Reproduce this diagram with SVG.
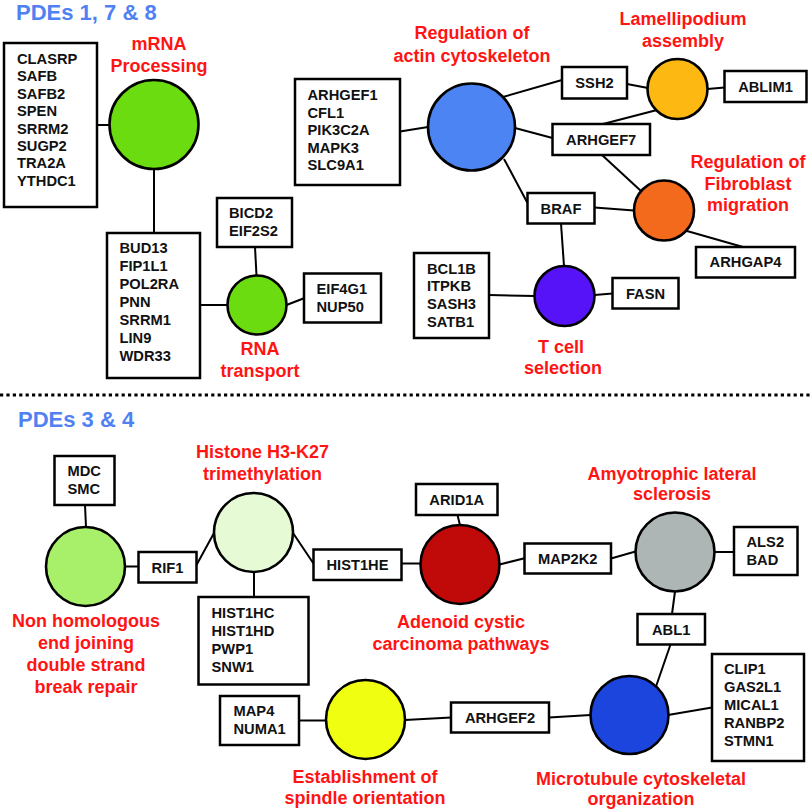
<svg xmlns="http://www.w3.org/2000/svg" width="810" height="812" viewBox="0 0 810 812">
<style>
text{font-family:"Liberation Sans",Arial,sans-serif;font-weight:bold}
.ttl{font-size:22px;fill:#4f81f3}
.lbl{font-size:18px;fill:#ff1414;text-anchor:middle}
.g{font-size:14.7px;fill:#111}
.gc{font-size:14.7px;fill:#111;text-anchor:middle}
.box{fill:#fff;stroke:#000;stroke-width:2.5}
.nd{stroke:#000;stroke-width:2.6}
.cn line{stroke:#000;stroke-width:2}
</style>
<rect width="810" height="812" fill="#fff"/>
<g id="connectors" class="cn">
<line x1="97" y1="125" x2="110" y2="125"/>
<line x1="154" y1="169" x2="154" y2="233"/>
<line x1="200" y1="305" x2="228" y2="305"/>
<line x1="255" y1="247" x2="256.5" y2="275.5"/>
<line x1="286.5" y1="305" x2="304" y2="298.3"/>
<line x1="400" y1="131.5" x2="428" y2="127"/>
<line x1="503" y1="97" x2="562" y2="80"/>
<line x1="515" y1="128" x2="552.5" y2="138"/>
<line x1="504" y1="159" x2="527.5" y2="203"/>
<line x1="627" y1="84" x2="648" y2="88"/>
<line x1="707.5" y1="89" x2="724.5" y2="87.5"/>
<line x1="603" y1="124" x2="657" y2="110"/>
<line x1="602" y1="155" x2="641" y2="191"/>
<line x1="594.5" y1="207.5" x2="634" y2="210.5"/>
<line x1="687" y1="231" x2="743" y2="247"/>
<line x1="561" y1="223.5" x2="564" y2="266"/>
<line x1="489" y1="295" x2="534.5" y2="296"/>
<line x1="594.5" y1="295" x2="612.5" y2="293.5"/>
<line x1="85" y1="505" x2="86" y2="527"/>
<line x1="125" y1="566.5" x2="138.5" y2="566.5"/>
<line x1="196.5" y1="565" x2="214" y2="533"/>
<line x1="293" y1="533" x2="313.5" y2="563.5"/>
<line x1="254" y1="572" x2="254" y2="597"/>
<line x1="401.5" y1="563.5" x2="420.5" y2="563.5"/>
<line x1="457.5" y1="515" x2="460" y2="525"/>
<line x1="499.5" y1="564.5" x2="524.5" y2="558.3"/>
<line x1="611" y1="558.5" x2="635.5" y2="551.5"/>
<line x1="714.5" y1="552" x2="734" y2="552"/>
<line x1="675" y1="591.5" x2="672" y2="614"/>
<line x1="670.5" y1="644.5" x2="656" y2="686.5"/>
<line x1="668" y1="715" x2="712" y2="707.5"/>
<line x1="549" y1="717.5" x2="590.5" y2="715"/>
<line x1="405" y1="720" x2="451" y2="717.5"/>
<line x1="299" y1="720.5" x2="326" y2="720.5"/>
</g>
<line id="divider" x1="0" y1="395" x2="810" y2="395" stroke="#000" stroke-width="3.2" stroke-dasharray="3.2 3.2"/>
<text class="ttl" x="16" y="20">PDEs 1, 7 &amp; 8</text>
<text class="ttl" x="18" y="427">PDEs 3 &amp; 4</text>

<g id="box-clasrp"><rect class="box" x="4" y="43" width="93" height="164"/>
<text class="g" x="17" y="64">CLASRP</text><text class="g" x="17" y="81.4">SAFB</text><text class="g" x="17" y="98.8">SAFB2</text><text class="g" x="17" y="116.2">SPEN</text><text class="g" x="17" y="133.6">SRRM2</text><text class="g" x="17" y="151">SUGP2</text><text class="g" x="17" y="168.4">TRA2A</text><text class="g" x="17" y="185.8">YTHDC1</text></g>
<g id="node-mrna"><circle class="nd" cx="154" cy="124.5" r="44.5" fill="#6adc10"/>
<text class="lbl" x="159" y="50">mRNA</text><text class="lbl" x="159" y="72">Processing</text></g>
<g id="box-bud13"><rect class="box" x="107" y="233" width="93" height="145"/>
<text class="g" x="119.5" y="253">BUD13</text><text class="g" x="119.5" y="271">FIP1L1</text><text class="g" x="119.5" y="289">POL2RA</text><text class="g" x="119.5" y="307">PNN</text><text class="g" x="119.5" y="325">SRRM1</text><text class="g" x="119.5" y="343">LIN9</text><text class="g" x="119.5" y="361">WDR33</text></g>
<g id="node-rna"><circle class="nd" cx="257" cy="305" r="29.5" fill="#6adc10"/>
<text class="lbl" x="260" y="355">RNA</text><text class="lbl" x="260" y="376.5">transport</text></g>
<g id="box-bicd2"><rect class="box" x="217" y="198" width="75" height="49"/>
<text class="g" x="229" y="218">BICD2</text><text class="g" x="229" y="236">EIF2S2</text></g>
<g id="box-eif4g1"><rect class="box" x="304" y="273.5" width="77" height="49"/>
<text class="g" x="316.5" y="293.5">EIF4G1</text><text class="g" x="316.5" y="311.5">NUP50</text></g>
<g id="box-arhgef1"><rect class="box" x="295" y="79" width="105" height="106"/>
<text class="g" x="307.5" y="100">ARHGEF1</text><text class="g" x="307.5" y="117.5">CFL1</text><text class="g" x="307.5" y="135">PIK3C2A</text><text class="g" x="307.5" y="152.5">MAPK3</text><text class="g" x="307.5" y="170">SLC9A1</text></g>
<g id="node-actin"><circle class="nd" cx="471.5" cy="127" r="43.5" fill="#4d84f4"/>
<text class="lbl" x="472" y="39">Regulation of</text><text class="lbl" x="472" y="61.5">actin cytoskeleton</text></g>
<g id="box-ssh2"><rect class="box" x="562" y="67" width="65" height="31.5"/><text class="gc" x="594.5" y="88">SSH2</text></g>
<g id="node-lamellipodium"><circle class="nd" cx="677.5" cy="89" r="30" fill="#fdb812"/>
<text class="lbl" x="683" y="25">Lamellipodium</text><text class="lbl" x="683" y="46.5">assembly</text></g>
<g id="box-ablim1"><rect class="box" x="724.5" y="71" width="82" height="31"/><text class="gc" x="765.5" y="91.5">ABLIM1</text></g>
<g id="box-arhgef7"><rect class="box" x="552.5" y="124" width="97.5" height="31"/><text class="gc" x="601.2" y="145">ARHGEF7</text></g>
<g id="node-fibroblast"><circle class="nd" cx="664" cy="210.5" r="30" fill="#f46a1c"/>
<text class="lbl" x="748" y="168">Regulation of</text><text class="lbl" x="748" y="189.5">Fibroblast</text><text class="lbl" x="748" y="211">migration</text></g>
<g id="box-braf"><rect class="box" x="527.5" y="193" width="67" height="30.5"/><text class="gc" x="561" y="213.5">BRAF</text></g>
<g id="box-arhgap4"><rect class="box" x="696" y="247" width="99" height="30.5"/><text class="gc" x="745.5" y="267.3">ARHGAP4</text></g>
<g id="node-tcell"><circle class="nd" cx="564.5" cy="296" r="30" fill="#5713f8"/>
<text class="lbl" x="561" y="353">T cell</text><text class="lbl" x="563" y="373.5">selection</text></g>
<g id="box-bcl1b"><rect class="box" x="414" y="253" width="75" height="85"/>
<text class="g" x="427" y="273.5">BCL1B</text><text class="g" x="427" y="291.3">ITPKB</text><text class="g" x="427" y="309.2">SASH3</text><text class="g" x="427" y="327">SATB1</text></g>
<g id="box-fasn"><rect class="box" x="612.5" y="278" width="66" height="30.5"/><text class="gc" x="645.5" y="298.5">FASN</text></g>

<g id="box-mdc"><rect class="box" x="54.5" y="456" width="60" height="49"/>
<text class="g" x="67.5" y="476">MDC</text><text class="g" x="67.5" y="494">SMC</text></g>
<g id="node-nhej"><circle class="nd" cx="85.5" cy="566.5" r="39.5" fill="#a9f06a"/>
<text class="lbl" x="86" y="627">Non homologous</text><text class="lbl" x="86" y="649">end joining</text><text class="lbl" x="86" y="671">double strand</text><text class="lbl" x="86" y="693">break repair</text></g>
<g id="box-rif1"><rect class="box" x="138.5" y="552" width="58" height="30.5"/><text class="gc" x="167.5" y="572.5">RIF1</text></g>
<g id="node-histone"><circle class="nd" cx="253.5" cy="532.5" r="39.5" fill="#e6fad5"/>
<text class="lbl" x="262.5" y="458">Histone H3-K27</text><text class="lbl" x="262.5" y="480">trimethylation</text></g>
<g id="box-hist1hc"><rect class="box" x="198.5" y="597" width="110" height="87.5"/>
<text class="g" x="211.5" y="617.5">HIST1HC</text><text class="g" x="211.5" y="635.5">HIST1HD</text><text class="g" x="211.5" y="653.5">PWP1</text><text class="g" x="211.5" y="671.5">SNW1</text></g>
<g id="box-hist1he"><rect class="box" x="313.5" y="549.5" width="88" height="30.5"/><text class="gc" x="357.5" y="570">HIST1HE</text></g>
<g id="node-adenoid"><circle class="nd" cx="460" cy="564.5" r="39.5" fill="#c00a0a"/>
<text class="lbl" x="461" y="627.5">Adenoid cystic</text><text class="lbl" x="461" y="649.5">carcinoma pathways</text></g>
<g id="box-arid1a"><rect class="box" x="416" y="484" width="81.5" height="31"/><text class="gc" x="456.7" y="505">ARID1A</text></g>
<g id="box-map2k2"><rect class="box" x="524.5" y="543.5" width="86.5" height="30"/><text class="gc" x="567.7" y="563.5">MAP2K2</text></g>
<g id="node-als"><circle class="nd" cx="675" cy="552" r="39.5" fill="#adb5b5"/>
<text class="lbl" x="672" y="480">Amyotrophic lateral</text><text class="lbl" x="672" y="500">sclerosis</text></g>
<g id="box-als2"><rect class="box" x="734" y="527" width="63.5" height="48"/>
<text class="g" x="746.5" y="546.5">ALS2</text><text class="g" x="746.5" y="565">BAD</text></g>
<g id="box-abl1"><rect class="box" x="637.5" y="614" width="67.5" height="30.5"/><text class="gc" x="671.2" y="635">ABL1</text></g>
<g id="node-microtubule"><circle class="nd" cx="629.5" cy="715" r="39" fill="#1c45de"/>
<text class="lbl" x="641" y="785">Microtubule cytoskeletal</text><text class="lbl" x="641" y="804.5">organization</text></g>
<g id="box-clip1"><rect class="box" x="712" y="654" width="92" height="107"/>
<text class="g" x="724" y="674">CLIP1</text><text class="g" x="724" y="692">GAS2L1</text><text class="g" x="724" y="710">MICAL1</text><text class="g" x="724" y="728">RANBP2</text><text class="g" x="724" y="746">STMN1</text></g>
<g id="box-arhgef2"><rect class="box" x="451" y="702.5" width="98" height="30"/><text class="gc" x="500" y="722.5">ARHGEF2</text></g>
<g id="node-spindle"><circle class="nd" cx="365.5" cy="719.5" r="39.5" fill="#f0ff12"/>
<text class="lbl" x="365" y="782.5">Establishment of</text><text class="lbl" x="365" y="803.5">spindle orientation</text></g>
<g id="box-map4"><rect class="box" x="220" y="696" width="79" height="49"/>
<text class="g" x="233.5" y="716">MAP4</text><text class="g" x="233.5" y="733.5">NUMA1</text></g>
</svg>
